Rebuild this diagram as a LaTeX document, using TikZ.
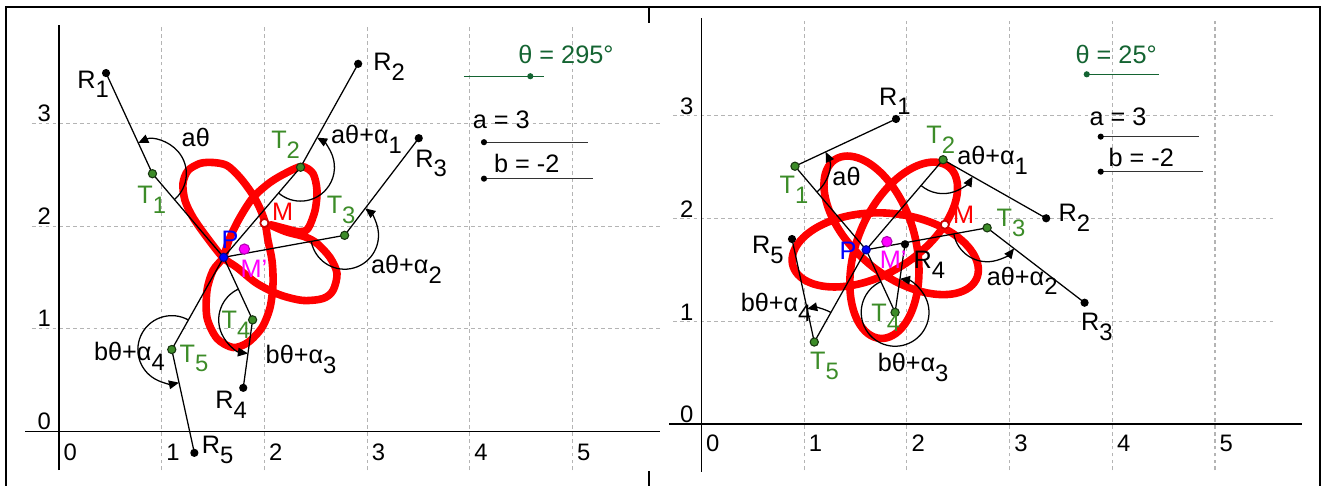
\documentclass[tikz,border=0pt]{standalone}
\usepackage{fontspec}
\setmainfont{Liberation Sans}
\usetikzlibrary{calc,arrows.meta}
\definecolor{tgreen}{RGB}{60,140,40}
\definecolor{thgreen}{RGB}{20,100,50}
\definecolor{gridgray}{RGB}{180,180,180}
\definecolor{mag}{RGB}{255,0,255}
\newcommand{\subx}[1]{\raisebox{-2.7pt}{\fontsize{6.6}{7}\selectfont #1}}
\tikzset{
  frame/.style={black, line width=0.6pt},
  gridl/.style={gridgray, line width=0.3pt, dash pattern=on 1pt off 0.9pt},
  axisl/.style={black, line width=0.45pt},
  seg/.style={black, line width=0.35pt},
  angarc/.style={black, line width=0.35pt, -{Triangle[length=2.8pt,width=2.4pt]}},
  rdot/.style={circle, fill=black, inner sep=0pt, minimum size=0.08cm},
  sdot/.style={circle, fill=black, inner sep=0pt, minimum size=0.06cm},
  gsdot/.style={circle, fill=thgreen, inner sep=0pt, minimum size=0.06cm},
  tdot/.style={circle, fill=tgreen, draw=black!60!tgreen, line width=0.3pt, inner sep=0pt, minimum size=0.08cm},
  pdot/.style={circle, fill=blue, draw=blue!60!black, line width=0.3pt, inner sep=0pt, minimum size=0.08cm},
  mpdot/.style={circle, fill=mag, draw=mag!70!black, line width=0.3pt, inner sep=0pt, minimum size=0.1cm},
  mdot/.style={circle, fill=white, draw=red!80!black, line width=0.5pt, inner sep=0pt, minimum size=0.08cm},
  lbl/.style={anchor=base west, inner sep=0pt, font=\fontsize{7}{8}\selectfont},
  tick/.style={inner sep=0pt, font=\fontsize{6.6}{7}\selectfont},
  locus/.style={red, line width=0.074cm, line join=round},
  slid/.style={black!80, line width=0.35pt},
  gslid/.style={thgreen, line width=0.35pt},
}
\begin{document}
\begin{tikzpicture}
\useasboundingbox (0,0) rectangle (12.882,4.732);
\fill[white] (0,0) rectangle (12.882,4.732);
% frame
\draw[frame] (0.0584,0) -- (0.0584,4.664) -- (12.853,4.664) -- (12.853,0);
\draw[frame] (6.319,4.664) -- (6.319,4.508);
\draw[frame] (6.319,0.146) -- (6.319,0);

% ================= LEFT PANEL =================
\begin{scope}[shift={(0.5745,0.5307)}]
  \foreach \k in {1,...,5} \draw[gridl] (\k,-0.375) -- (\k,3.958);
  \foreach \k in {1,2,3} \draw[gridl] (-0.263,\k) -- (5.85,\k);
  \draw[axisl] (-0.331,0) -- (5.852,0);
  \draw[axisl] (0,-0.375) -- (0,3.958);
  \foreach \k in {0,...,5} \node[tick] (Lx\k) at (\k+0.11,-0.2) {\k};
  \foreach \k in {0,...,3} \node[tick] (Ly\k) at (-0.144,\k+0.1) {\k};

  \coordinate (LP) at (1.603,1.696);
  \coordinate (LT1) at (0.91,2.51);
  \coordinate (LT2) at (2.352,2.573);
  \coordinate (LT3) at (2.781,1.91);
  \coordinate (LT4) at (1.885,1.087);
  \coordinate (LT5) at (1.098,0.798);
  \coordinate (LR1) at (0.458,3.49);
  \coordinate (LR2) at (2.913,3.58);
  \coordinate (LR3) at (3.503,2.856);
  \coordinate (LR4) at (1.794,0.425);
  \coordinate (LR5) at (1.318,-0.208);
  \coordinate (LMp) at (1.805,1.776);
  \coordinate (LM) at (2.0,2.03);

  % locus
  \draw[locus] plot[smooth cycle, tension=0.5] coordinates {
    (1.373,2.610) (1.500,2.619) (1.636,2.590) (1.762,2.473) (1.879,2.317)
    (1.957,2.171) (2.006,2.035) (2.035,1.860) (2.074,1.665) (2.084,1.441)
    (2.055,1.207) (1.977,1.013) (1.840,0.867) (1.694,0.818) (1.538,0.906)
    (1.441,1.110) (1.441,1.373) (1.500,1.568) (1.597,1.694) (1.665,1.889)
    (1.762,2.084) (1.889,2.278) (2.055,2.425) (2.220,2.522) (2.366,2.580)
    (2.473,2.512) (2.512,2.347) (2.493,2.152) (2.425,1.977) (2.340,1.945)
    (2.200,1.977) (2.060,2.012) (2.210,1.945) (2.395,1.895) (2.512,1.831)
    (2.639,1.694) (2.707,1.538) (2.668,1.373) (2.571,1.295) (2.376,1.276)
    (2.152,1.330) (1.928,1.441) (1.733,1.597) (1.597,1.694) (1.441,1.889)
    (1.305,2.084) (1.227,2.249) (1.207,2.415) (1.256,2.541)};

  % linkage
  \foreach \i in {1,...,5} \draw[seg] (LR\i) -- (LT\i) -- (LP);

  % angle arcs
  \draw[angarc] ($(LT1)+(-49.6:0.33)$) arc[start angle=-49.6, end angle=114.8, radius=0.33];
  \draw[angarc] ($(LT2)+(-130.5:0.33)$) arc[start angle=-130.5, end angle=60.9, radius=0.33];
  \draw[angarc] ($(LT3)+(190.3:0.33)$) arc[start angle=190.3, end angle=412.6, radius=0.33];
  \draw[angarc] ($(LT4)+(114.8:0.33)$) arc[start angle=114.8, end angle=262.2, radius=0.33];
  \draw[angarc] ($(LT5)+(60.6:0.33)$) arc[start angle=60.6, end angle=282.3, radius=0.33];

  % sliders
  \coordinate (LthA) at (3.943,3.459); \coordinate (LthB) at (4.722,3.459);
  \coordinate (LaA) at (4.138,2.817); \coordinate (LaB) at (5.155,2.817);
  \coordinate (LbA) at (4.138,2.462); \coordinate (LbB) at (5.204,2.462);
  \draw[gslid] (LthA) -- (LthB);
  \draw[slid] (LaA) -- (LaB);
  \draw[slid] (LbA) -- (LbB);
  \node[gsdot] (Lthd) at (4.589,3.459) {};
  \node[sdot] (Lad) at (LaA) {};
  \node[sdot] (Lbd) at (LbA) {};

  % points
  \foreach \i in {1,...,5} {
    \node[rdot] (LR\i d) at (LR\i) {};
    \node[tdot] (LT\i d) at (LT\i) {};
  }
  \node[mpdot] (LMpd) at (LMp) {};
  \node[mdot] (LMd) at (LM) {};
  \node[pdot] (LPd) at (LP) {};

  % labels
  \node[lbl] (LR1l) at (0.172,3.344) {R\subx{1}};
  \node[lbl] (LR2l) at (3.053,3.515) {R\subx{2}};
  \node[lbl] (LR3l) at (3.462,2.574) {R\subx{3}};
  \node[lbl] (LR4l) at (1.515,0.221) {R\subx{4}};
  \node[lbl] (LR5l) at (1.383,-0.217) {R\subx{5}};
  \node[lbl,text=tgreen] (LT1l) at (0.757,2.217) {T\subx{1}};
  \node[lbl,text=tgreen] (LT2l) at (2.060,2.753) {T\subx{2}};
  \node[lbl,text=tgreen] (LT3l) at (2.600,2.119) {T\subx{3}};
  \node[lbl,text=tgreen] (LT4l) at (1.577,1.0) {T\subx{4}};
  \node[lbl,text=tgreen] (LT5l) at (1.167,0.675) {T\subx{5}};
  \node[lbl,text=blue] (LPl) at (1.577,1.779) {P};
  \node[lbl,text=mag] (LMpl) at (1.762,1.497) {M'};
  \node[lbl,text=red] (LMl) at (2.069,2.054) {M};
  \node[lbl] (La0l) at (1.188,2.777) {aθ};
  \node[lbl] (La1l) at (2.643,2.801) {aθ+α\subx{1}};
  \node[lbl] (La2l) at (3.032,1.534) {aθ+α\subx{2}};
  \node[lbl] (Lb3l) at (2.006,0.659) {bθ+α\subx{3}};
  \node[lbl] (Lb4l) at (0.335,0.691) {bθ+α\subx{4}};
  \node[lbl,text=thgreen] (Lthl) at (4.466,3.58) {θ = 295°};
  \node[lbl] (Lal) at (4.023,2.947) {a = 3};
  \node[lbl] (Lbl) at (4.229,2.525) {b = -2};
\end{scope}

% ================= RIGHT PANEL =================
\begin{scope}[shift={(6.8306,0.6037)}]
  \foreach \k in {1,...,5} \draw[gridl] (\k,-0.448) -- (\k,3.93);
  \foreach \k in {1,2,3} \draw[gridl] (-0.277,\k) -- (5.565,\k);
  \draw[axisl] (-0.316,0) -- (5.847,0);
  \draw[axisl] (0,-0.467) -- (0,3.953);
  \foreach \k in {0,...,5} \node[tick] (Rx\k) at (\k+0.11,-0.19) {\k};
  \foreach \k in {0,...,3} \node[tick] (Ry\k) at (-0.144,\k+0.09) {\k};

  \coordinate (RP) at (1.603,1.696);
  \coordinate (RT1) at (0.91,2.51);
  \coordinate (RT2) at (2.352,2.573);
  \coordinate (RT3) at (2.781,1.91);
  \coordinate (RT4) at (1.885,1.087);
  \coordinate (RT5) at (1.098,0.798);
  \coordinate (RR1) at (1.894,2.97);
  \coordinate (RR2) at (3.356,2.003);
  \coordinate (RR3) at (3.73,1.181);
  \coordinate (RR4) at (1.981,1.75);
  \coordinate (RR5) at (0.881,1.801);
  \coordinate (RMp) at (1.805,1.776);
  \coordinate (RM) at (2.369,1.941);

  % locus
  \draw[locus] plot[domain=0:360, samples=240, smooth, variable=\t]
    ({1.805+0.611*cos(3*\t-91)+0.334*cos(-2*\t+144)},
     {1.776+0.611*sin(3*\t-91)+0.334*sin(-2*\t+144)}) -- cycle;

  \foreach \i in {1,...,5} \draw[seg] (RR\i) -- (RT\i) -- (RP);

  \draw[angarc] ($(RT1)+(-49.6:0.33)$) arc[start angle=-49.6, end angle=25.05, radius=0.33];
  \draw[angarc] ($(RT2)+(-130.5:0.33)$) arc[start angle=-130.5, end angle=-29.6, radius=0.33];
  \draw[angarc] ($(RT3)+(190.3:0.33)$) arc[start angle=190.3, end angle=322.5, radius=0.33];
  \draw[angarc] ($(RT4)+(114.8:0.33)$) arc[start angle=114.8, end angle=441.8, radius=0.33];
  \draw[angarc] ($(RT5)+(60.6:0.33)$) arc[start angle=60.6, end angle=102.2, radius=0.33];

  \coordinate (RthA) at (3.72,3.405); \coordinate (RthB) at (4.45,3.405);
  \coordinate (RaA) at (3.887,2.798); \coordinate (RaB) at (4.842,2.798);
  \coordinate (RbA) at (3.887,2.457); \coordinate (RbB) at (4.883,2.457);
  \draw[gslid] (RthA) -- (RthB);
  \draw[slid] (RaA) -- (RaB);
  \draw[slid] (RbA) -- (RbB);
  \node[gsdot] (Rthd) at (3.751,3.405) {};
  \node[sdot] (Rad) at (RaA) {};
  \node[sdot] (Rbd) at (RbA) {};

  \foreach \i in {1,...,5} {
    \node[rdot] (RR\i d) at (RR\i) {};
    \node[tdot] (RT\i d) at (RT\i) {};
  }
  \node[mpdot] (RMpd) at (RMp) {};
  \node[mdot] (RMd) at (RM) {};
  \node[pdot] (RPd) at (RP) {};

  \node[lbl] (RR1l) at (1.722,3.106) {R\subx{1}};
  \node[lbl] (RR2l) at (3.471,1.970) {R\subx{2}};
  \node[lbl] (RR3l) at (3.689,0.906) {R\subx{3}};
  \node[lbl] (RR4l) at (2.058,1.516) {R\subx{4}};
  \node[lbl] (RR5l) at (0.486,1.662) {R\subx{5}};
  \node[lbl,text=tgreen] (RT1l) at (0.754,2.246) {T\subx{1}};
  \node[lbl,text=tgreen] (RT2l) at (2.182,2.733) {T\subx{2}};
  \node[lbl,text=tgreen] (RT3l) at (2.866,1.921) {T\subx{3}};
  \node[lbl,text=tgreen] (RT4l) at (1.647,0.996) {T\subx{4}};
  \node[lbl,text=tgreen] (RT5l) at (1.050,0.533) {T\subx{5}};
  \node[lbl,text=blue] (RPl) at (1.338,1.597) {P};
  \node[lbl,text=mag] (RMpl) at (1.729,1.516) {M'};
  \node[lbl,text=red] (RMl) at (2.442,1.954) {M};
  \node[lbl] (Ra0l) at (1.268,2.327) {aθ};
  \node[lbl] (Ra1l) at (2.483,2.522) {aθ+α\subx{1}};
  \node[lbl] (Ra2l) at (2.771,1.353) {aθ+α\subx{2}};
  \node[lbl] (Rb3l) at (1.709,0.509) {bθ+α\subx{3}};
  \node[lbl] (Rb4l) at (0.375,1.093) {bθ+α\subx{4}};
  \node[lbl,text=thgreen] (Rthl) at (3.636,3.512) {θ = 25°};
  \node[lbl] (Ral) at (3.771,2.911) {a = 3};
  \node[lbl] (Rbl) at (3.957,2.505) {b = -2};
\end{scope}
\end{tikzpicture}
\end{document}
